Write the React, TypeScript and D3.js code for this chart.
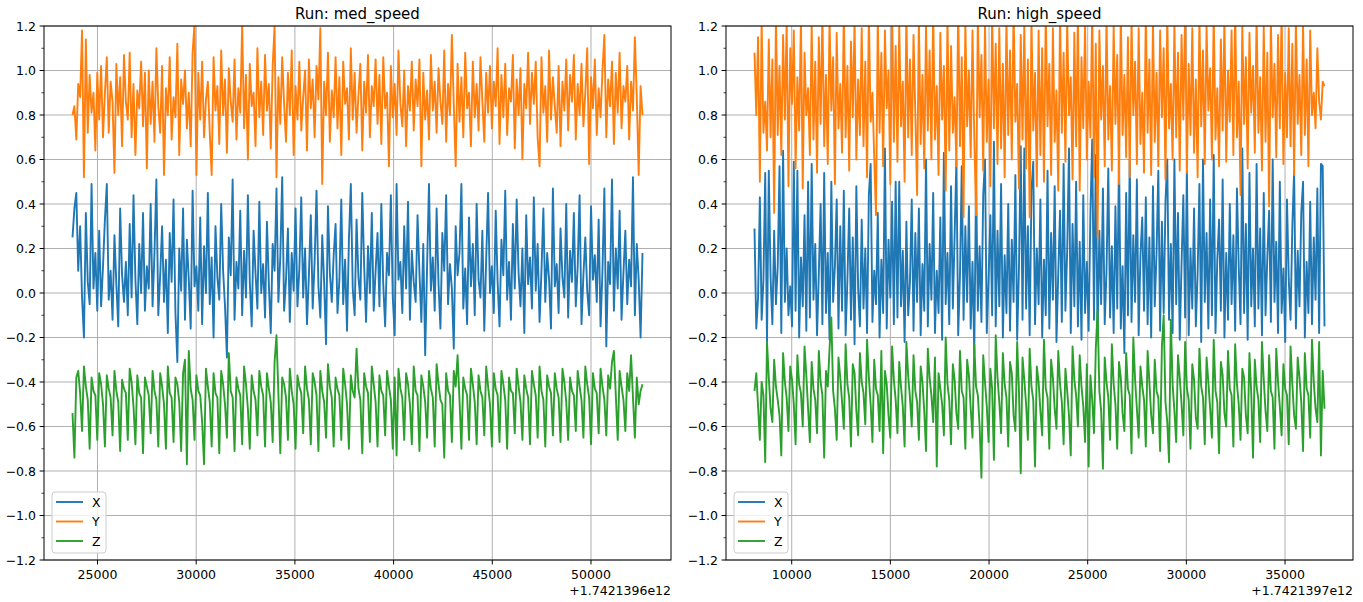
import { useEffect, useRef } from 'react'
import * as d3 from 'd3'

// sample time ranges (ms, relative to the offset shown under each x axis)
const medStart = 23734
const medEnd = 52609
const highStart = 8114
const highEnd = 37001

const medTicks = [25000, 30000, 35000, 40000, 45000, 50000]
const highTicks = [10000, 15000, 20000, 25000, 30000, 35000]
const yTicks = [-1.2, -1.0, -0.8, -0.6, -0.4, -0.2, 0.0, 0.2, 0.4, 0.6, 0.8, 1.0, 1.2]
const yMinorTicks = [-1.1, -0.9, -0.7, -0.5, -0.3, -0.1, 0.1, 0.3, 0.5, 0.7, 0.9, 1.1]

const medX = [
  0.25, 0.38, 0.45, 0.10, 0.30, -0.02, -0.20, 0.36, 0.05, -0.05, 0.49, 0.02, 0.18, -0.08, 0.28, -0.06, 0.12, 0.33, 0.49, -0.03,
  0.10, -0.12, 0.26, 0.04, -0.15, 0.38, 0.08, -0.04, 0.14, -0.10, 0.31, -0.02, 0.44, 0.06, -0.14, 0.22, 0.00, 0.36, -0.08, 0.12,
  0.02, 0.40, -0.06, 0.18, 0.51, -0.10, 0.08, 0.30, -0.04, 0.15, -0.18, 0.27, 0.05, 0.42, -0.09, -0.31, 0.20, 0.01, 0.38, -0.12,
  0.24, 0.06, -0.16, 0.46, 0.03, 0.12, -0.08, 0.34, -0.14, 0.21, 0.00, 0.45, -0.05, 0.16, -0.20, 0.30, 0.07, -0.03, 0.40, 0.10,
  -0.06, -0.29, 0.25, 0.08, 0.51, -0.12, 0.14, 0.02, 0.37, -0.10, 0.19, -0.02, 0.44, 0.05, -0.15, 0.28, 0.09, -0.07, 0.41, 0.00,
  0.13, -0.11, 0.32, 0.04, -0.18, 0.22, 0.10, 0.47, -0.04, 0.16, 0.52, -0.08, 0.06, 0.29, -0.13, 0.18, 0.01, 0.38, -0.06, 0.11,
  0.43, -0.02, 0.20, -0.14, 0.08, 0.35, -0.07, 0.14, 0.46, 0.03, -0.11, 0.26, 0.05, -0.23, 0.39, 0.09, -0.04, 0.17, 0.31, -0.09,
  0.06, 0.42, -0.05, 0.15, -0.17, 0.24, 0.49, 0.02, -0.10, 0.33, 0.07, -0.03, 0.45, 0.12, -0.13, 0.21, 0.00, 0.36, -0.08, 0.10,
  0.27, -0.06, 0.40, 0.04, -0.15, 0.18, 0.08, 0.44, -0.02, -0.19, 0.49, 0.06, 0.14, -0.09, 0.30, 0.02, 0.41, -0.12, 0.19, 0.05,
  -0.04, 0.35, 0.09, -0.13, 0.22, -0.28, 0.12, 0.49, 0.01, 0.16, -0.08, 0.38, 0.04, -0.16, 0.27, 0.10, 0.44, -0.05, 0.13, 0.02,
  -0.25, 0.30, 0.08, 0.18, 0.49, -0.07, 0.11, -0.14, 0.34, 0.03, 0.22, -0.10, 0.40, 0.06, -0.02, 0.28, -0.17, 0.15, 0.45, 0.00,
  0.12, -0.09, 0.37, 0.05, -0.15, 0.24, 0.08, 0.46, -0.03, 0.14, -0.12, 0.31, 0.02, 0.42, 0.09, -0.06, 0.20, -0.18, 0.35, 0.04,
  0.16, -0.07, 0.43, 0.01, 0.22, -0.13, 0.10, 0.38, -0.04, 0.18, 0.06, -0.16, 0.47, 0.03, 0.13, -0.09, 0.29, 0.07, -0.02, 0.40,
  -0.11, 0.19, 0.05, 0.36, -0.06, 0.12, 0.44, -0.14, 0.08, 0.25, 0.01, -0.10, 0.39, 0.06, 0.17, -0.04, 0.33, -0.15, 0.10, 0.47,
  -0.24, 0.14, 0.04, 0.51, -0.08, 0.20, 0.02, 0.37, -0.12, 0.09, 0.28, -0.05, 0.15, 0.03, 0.52, -0.10, 0.22, 0.06, -0.20, 0.18,
]

const medY = [
  0.80, 0.84, 0.69, 0.94, 0.88, 1.18, 0.52, 1.14, 0.72, 0.98, 0.81, 0.90, 0.64, 0.99, 0.78, 1.02, 0.70, 0.90, 1.06, 0.72,
  0.95, 0.86, 0.54, 1.03, 0.80, 0.97, 0.66, 1.07, 0.86, 0.78, 1.08, 0.70, 0.94, 0.62, 0.91, 0.83, 1.04, 0.75, 0.99, 0.56,
  1.00, 0.76, 0.95, 0.68, 1.10, 0.84, 0.72, 1.02, 0.53, 0.92, 0.80, 1.06, 0.69, 0.88, 0.79, 1.12, 0.62, 0.96, 0.85, 1.00,
  0.74, 0.90, 0.66, 1.08, 1.21, 0.53, 0.99, 0.78, 1.04, 0.70, 0.87, 0.95, 0.72, 0.53, 1.06, 0.82, 0.93, 0.67, 1.09, 0.80,
  0.96, 0.63, 1.01, 0.86, 0.77, 1.05, 0.69, 0.92, 0.81, 1.21, 0.74, 0.98, 0.60, 1.03, 0.84, 0.90, 0.66, 1.10, 0.79, 0.95,
  0.71, 1.07, 0.82, 0.94, 0.65, 1.02, 1.20, 0.52, 0.97, 0.76, 1.06, 0.85, 0.68, 0.99, 0.80, 1.09, 0.62, 0.93, 0.78, 1.04,
  0.73, 0.88, 1.00, 0.64, 1.05, 0.83, 0.96, 0.70, 1.02, 0.87, 1.19, 0.49, 0.95, 0.80, 1.08, 0.68, 0.91, 0.79, 1.06, 0.74,
  0.97, 0.62, 1.04, 0.85, 0.92, 0.69, 1.10, 0.78, 0.99, 0.72, 0.89, 1.03, 0.64, 0.95, 0.81, 1.07, 0.70, 0.93, 0.84, 1.05,
  0.76, 0.98, 0.67, 1.06, 0.83, 0.90, 0.57, 1.02, 0.79, 0.94, 0.71, 1.09, 0.85, 0.75, 1.00, 0.66, 0.93, 0.82, 1.04, 0.73,
  0.96, 0.84, 1.05, 0.57, 0.99, 0.78, 0.91, 0.69, 1.07, 0.82, 0.95, 0.72, 1.01, 0.86, 0.76, 1.09, 0.68, 0.94, 0.80, 1.16,
  0.85, 0.57, 1.03, 0.77, 0.97, 0.70, 1.08, 0.83, 0.90, 0.66, 1.04, 0.79, 0.94, 0.73, 1.06, 0.86, 0.68, 0.99, 0.81, 1.02,
  0.74, 0.95, 0.84, 1.10, 0.67, 0.98, 0.79, 1.03, 0.71, 0.92, 0.86, 1.07, 0.65, 0.96, 0.80, 1.01, 0.60, 0.94, 0.83, 1.08,
  0.76, 0.99, 0.85, 1.04, 0.70, 0.57, 1.06, 0.81, 0.93, 0.68, 1.09, 0.78, 0.97, 0.84, 0.72, 1.02, 0.66, 0.95, 0.82, 1.05,
  0.73, 0.98, 0.86, 1.07, 0.69, 0.94, 0.80, 1.03, 0.75, 0.90, 1.10, 0.58, 0.97, 0.83, 1.05, 0.71, 0.92, 0.79, 1.00, 1.16,
  0.70, 0.96, 0.84, 1.04, 0.67, 0.99, 0.81, 1.08, 0.74, 0.93, 0.86, 1.02, 0.69, 0.95, 0.82, 1.15, 0.88, 0.53, 0.93, 0.80,
]

const medZ = [
  -0.54, -0.74, -0.38, -0.35, -0.45, -0.62, -0.33, -0.42, -0.48, -0.70, -0.38, -0.44, -0.46, -0.66, -0.36, -0.41, -0.50, -0.69, -0.37, -0.43,
  -0.47, -0.64, -0.35, -0.44, -0.49, -0.71, -0.39, -0.43, -0.45, -0.66, -0.34, -0.40, -0.51, -0.68, -0.37, -0.45, -0.47, -0.72, -0.38, -0.42,
  -0.46, -0.63, -0.35, -0.44, -0.48, -0.69, -0.36, -0.42, -0.50, -0.70, -0.33, -0.45, -0.47, -0.67, -0.38, -0.41, -0.49, -0.71, -0.36, -0.30,
  -0.77, -0.26, -0.43, -0.48, -0.66, -0.37, -0.44, -0.46, -0.58, -0.77, -0.34, -0.42, -0.49, -0.69, -0.36, -0.45, -0.47, -0.72, -0.35, -0.41,
  -0.50, -0.65, -0.27, -0.44, -0.47, -0.71, -0.38, -0.43, -0.46, -0.68, -0.33, -0.41, -0.52, -0.70, -0.37, -0.44, -0.48, -0.64, -0.35, -0.42,
  -0.46, -0.69, -0.36, -0.43, -0.49, -0.67, -0.31, -0.19, -0.45, -0.72, -0.38, -0.41, -0.47, -0.66, -0.34, -0.44, -0.50, -0.70, -0.37, -0.42,
  -0.45, -0.63, -0.33, -0.43, -0.48, -0.68, -0.36, -0.40, -0.46, -0.71, -0.35, -0.44, -0.49, -0.65, -0.32, -0.42, -0.47, -0.69, -0.38, -0.43,
  -0.46, -0.66, -0.34, -0.41, -0.50, -0.70, -0.37, -0.44, -0.47, -0.25, -0.43, -0.48, -0.72, -0.36, -0.42, -0.45, -0.67, -0.33, -0.41, -0.49,
  -0.69, -0.37, -0.44, -0.46, -0.64, -0.35, -0.42, -0.48, -0.70, -0.38, -0.73, -0.34, -0.43, -0.47, -0.66, -0.36, -0.41, -0.50, -0.68, -0.33,
  -0.44, -0.46, -0.71, -0.37, -0.42, -0.49, -0.65, -0.35, -0.43, -0.47, -0.69, -0.32, -0.41, -0.48, -0.50, -0.74, -0.36, -0.44, -0.46, -0.67,
  -0.35, -0.42, -0.28, -0.48, -0.70, -0.38, -0.43, -0.46, -0.66, -0.34, -0.41, -0.49, -0.68, -0.37, -0.44, -0.47, -0.64, -0.33, -0.42, -0.50,
  -0.69, -0.36, -0.43, -0.46, -0.67, -0.35, -0.41, -0.48, -0.70, -0.38, -0.44, -0.45, -0.63, -0.34, -0.42, -0.49, -0.66, -0.37, -0.43, -0.47,
  -0.68, -0.35, -0.41, -0.46, -0.65, -0.33, -0.44, -0.48, -0.69, -0.37, -0.42, -0.45, -0.64, -0.36, -0.43, -0.47, -0.67, -0.34, -0.40, -0.49,
  -0.66, -0.38, -0.44, -0.46, -0.62, -0.35, -0.42, -0.48, -0.65, -0.33, -0.41, -0.47, -0.68, -0.36, -0.43, -0.45, -0.63, -0.34, -0.42, -0.48,
  -0.64, -0.37, -0.43, -0.31, -0.26, -0.46, -0.66, -0.35, -0.42, -0.48, -0.62, -0.36, -0.44, -0.28, -0.47, -0.65, -0.38, -0.50, -0.44, -0.41,
]

const highX = [
  0.29, -0.16, -0.02, 0.43, -0.12, 0.06, 0.54, -0.22, 0.55, 0.07, -0.14, 0.28, -0.05, 0.12, 0.57, -0.18, 0.64, -0.04, 0.20, -0.10,
  0.03, -0.15, 0.59, -0.08, 0.55, -0.20, 0.16, -0.06, 0.35, -0.17, 0.50, -0.11, 0.58, -0.03, 0.22, -0.19, 0.09, 0.40, -0.14, 0.54,
  -0.09, 0.18, -0.21, 0.50, -0.04, 0.12, 0.42, -0.16, 0.30, -0.08, 0.46, -0.19, 0.06, 0.38, -0.12, 0.25, -0.23, 0.48, 0.02, -0.15,
  0.33, -0.07, 0.20, -0.18, 0.44, 0.58, -0.13, 0.10, -0.05, 0.36, -0.20, 0.15, -0.09, 0.65, -0.16, 0.24, -0.02, 0.41, -0.14, 0.50,
  -0.11, 0.50, -0.06, 0.19, -0.22, 0.32, -0.10, 0.05, 0.42, -0.17, 0.27, -0.04, 0.38, -0.19, 0.13, -0.08, 0.60, -0.15, 0.22, -0.03,
  0.45, -0.18, 0.10, -0.09, 0.34, -0.21, 0.63, -0.05, 0.18, -0.14, 0.48, -0.07, 0.26, 0.60, -0.19, 0.08, 0.57, -0.12, 0.30, -0.04,
  0.39, -0.16, 0.14, -0.27, 0.52, -0.08, 0.21, -0.13, 0.44, 0.60, -0.18, 0.06, 0.35, -0.10, 0.68, -0.15, 0.28, -0.06, 0.49, -0.20,
  0.17, -0.09, 0.40, -0.17, 0.24, -0.04, 0.53, -0.21, 0.11, 0.66, -0.12, 0.65, -0.07, 0.30, -0.19, 0.46, 0.59, -0.14, 0.20, -0.05,
  0.42, -0.20, 0.15, -0.10, 0.55, -0.16, 0.27, -0.03, 0.48, -0.22, 0.09, 0.37, -0.13, 0.58, -0.08, 0.19, 0.65, -0.18, 0.31, -0.06,
  0.50, -0.15, 0.23, -0.21, 0.44, -0.09, 0.14, -0.17, 0.36, 0.69, -0.12, 0.62, -0.20, 0.28, -0.05, 0.47, -0.14, 0.10, 0.56, -0.11,
  0.21, -0.18, 0.39, -0.07, 0.62, -0.16, 0.12, -0.27, 0.45, -0.10, 0.60, -0.13, 0.26, -0.04, 0.51, -0.19, 0.17, 0.34, -0.08, 0.43,
  -0.14, 0.25, -0.20, 0.48, -0.06, 0.18, 0.55, -0.17, 0.32, -0.09, 0.41, 0.60, -0.12, 0.22, -0.18, 0.60, -0.05, 0.36, -0.21, 0.13,
  0.44, -0.11, 0.55, -0.19, 0.20, -0.07, 0.38, -0.15, 0.09, 0.49, -0.22, 0.60, -0.04, 0.27, -0.16, 0.42, -0.10, 0.62, -0.18, 0.15,
  0.33, -0.08, 0.51, -0.20, 0.18, -0.12, 0.40, -0.05, 0.26, -0.17, 0.47, 0.12, -0.14, 0.65, -0.09, 0.31, -0.21, 0.54, -0.06, 0.20,
  -0.15, 0.58, -0.07, 0.29, -0.19, 0.45, -0.10, 0.16, 0.37, -0.13, 0.60, -0.04, 0.23, -0.18, 0.50, -0.09, 0.11, -0.22, 0.42, 0.06,
  -0.12, 0.30, 0.55, -0.16, 0.19, -0.06, 0.36, 0.50, -0.20, 0.14, -0.09, 0.41, -0.14, 0.25, -0.03, 0.47, -0.18, 0.58, 0.57, -0.15,
]

const highY = [
  1.08, 0.80, 1.15, 0.50, 1.22, 0.72, 0.86, 0.64, 1.14, 0.70, 1.05, 0.36, 1.25, 0.71, 1.02, 0.62, 1.16, 0.78, 1.22, 0.48,
  1.10, 0.85, 1.18, 0.56, 0.97, 0.73, 1.24, 0.47, 1.08, 0.80, 0.92, 0.62, 1.21, 0.69, 1.04, 0.54, 1.15, 0.76, 1.26, 0.66,
  0.98, 0.58, 1.23, 0.82, 1.06, 0.49, 1.17, 0.74, 0.94, 0.63, 1.27, 0.70, 1.02, 0.55, 1.13, 0.79, 1.22, 0.60, 0.96, 0.71,
  1.19, 0.66, 1.04, 0.52, 1.25, 0.77, 0.90, 0.61, 0.35, 1.24, 0.72, 1.08, 0.57, 1.18, 0.83, 1.00, 0.49, 1.28, 0.68, 1.11,
  0.59, 1.20, 0.75, 0.95, 0.50, 1.26, 0.70, 1.05, 0.62, 1.16, 0.81, 0.44, 1.23, 0.67, 0.98, 0.56, 1.21, 0.73, 1.09, 0.60,
  1.27, 0.69, 0.93, 0.53, 1.17, 0.78, 1.02, 0.46, 1.24, 0.64, 1.11, 0.72, 0.88, 0.57, 1.29, 0.66, 1.06, 0.34, 1.22, 0.75,
  1.00, 0.61, 1.18, 0.70, 0.35, 1.25, 0.79, 1.07, 0.55, 1.21, 0.68, 0.96, 0.48, 1.26, 0.74, 1.12, 0.58, 1.19, 0.65, 1.03,
  0.52, 1.23, 0.71, 1.09, 0.60, 1.28, 0.77, 0.94, 0.47, 1.16, 0.69, 1.20, 0.56, 1.05, 0.34, 1.24, 0.73, 0.99, 0.48, 1.18,
  0.62, 1.10, 0.50, 1.27, 0.75, 1.03, 0.53, 1.19, 0.68, 0.91, 0.46, 1.25, 0.72, 1.08, 0.59, 1.22, 0.80, 0.97, 0.51, 1.17,
  0.66, 1.26, 0.46, 1.06, 0.74, 1.21, 0.60, 0.95, 0.70, 1.28, 0.52, 1.12, 0.25, 1.18, 0.78, 1.02, 0.57, 1.24, 0.69, 0.93,
  0.55, 1.20, 0.76, 1.07, 0.49, 1.26, 0.71, 0.98, 0.61, 1.15, 0.52, 1.23, 0.80, 1.04, 0.58, 1.19, 0.67, 0.90, 0.54, 1.27,
  0.72, 1.05, 0.53, 1.22, 0.68, 0.99, 0.57, 1.18, 0.79, 1.10, 0.51, 1.25, 0.74, 0.94, 0.60, 1.21, 0.70, 1.08, 0.55, 1.16,
  0.78, 1.27, 0.54, 1.03, 0.71, 1.19, 0.63, 0.96, 0.52, 1.24, 0.75, 1.09, 0.58, 1.20, 0.82, 1.01, 0.60, 1.26, 0.69, 0.92,
  0.57, 1.14, 0.73, 1.23, 0.59, 1.00, 0.77, 1.18, 0.62, 1.28, 0.70, 0.95, 0.44, 1.21, 0.76, 1.06, 0.56, 1.17, 0.81, 1.02,
  0.63, 1.25, 0.72, 0.97, 0.55, 1.20, 0.68, 1.08, 0.39, 1.22, 0.79, 1.03, 0.61, 1.16, 0.74, 1.27, 0.58, 0.99, 0.70, 1.19,
  0.66, 1.12, 0.53, 1.24, 0.76, 0.98, 0.62, 1.21, 0.71, 1.05, 0.57, 1.18, 0.80, 0.90, 0.74, 1.10, 0.86, 0.78, 0.95, 0.93,
]

const highZ = [
  -0.44, -0.36, -0.51, -0.66, -0.40, -0.46, -0.76, -0.22, -0.38, -0.52, -0.58, -0.30, -0.42, -0.48, -0.55, -0.73, -0.27, -0.40, -0.47, -0.62,
  -0.33, -0.39, -0.50, -0.68, -0.28, -0.41, -0.45, -0.60, -0.24, -0.37, -0.52, -0.67, -0.31, -0.43, -0.48, -0.63, -0.26, -0.40, -0.46, -0.74,
  -0.35, -0.42, -0.25, -0.11, -0.44, -0.52, -0.66, -0.29, -0.38, -0.49, -0.61, -0.23, -0.41, -0.47, -0.69, -0.32, -0.36, -0.53, -0.64, -0.27,
  -0.40, -0.45, -0.59, -0.21, -0.38, -0.50, -0.67, -0.30, -0.43, -0.46, -0.62, -0.26, -0.72, -0.35, -0.41, -0.55, -0.65, -0.24, -0.39, -0.48,
  -0.63, -0.31, -0.42, -0.51, -0.69, -0.22, -0.37, -0.47, -0.60, -0.28, -0.44, -0.49, -0.66, -0.33, -0.40, -0.53, -0.71, -0.25, -0.38, -0.46,
  -0.58, -0.29, -0.78, -0.36, -0.43, -0.50, -0.64, -0.20, -0.41, -0.48, -0.68, -0.32, -0.39, -0.54, -0.61, -0.26, -0.44, -0.47, -0.70, -0.30,
  -0.37, -0.52, -0.65, -0.23, -0.42, -0.46, -0.60, -0.83, -0.28, -0.40, -0.51, -0.67, -0.34, -0.43, -0.75, -0.19, -0.38, -0.49, -0.63, -0.27,
  -0.41, -0.47, -0.69, -0.31, -0.36, -0.55, -0.62, -0.22, -0.44, -0.81, -0.29, -0.39, -0.50, -0.66, -0.25, -0.42, -0.48, -0.78, -0.33, -0.40,
  -0.53, -0.64, -0.21, -0.43, -0.47, -0.70, -0.30, -0.38, -0.52, -0.61, -0.26, -0.41, -0.49, -0.68, -0.34, -0.44, -0.55, -0.73, -0.24, -0.39,
  -0.46, -0.60, -0.28, -0.42, -0.51, -0.67, -0.32, -0.78, -0.37, -0.48, -0.63, -0.25, -0.08, -0.44, -0.53, -0.79, -0.29, -0.40, -0.47, -0.66,
  -0.23, -0.41, -0.50, -0.70, -0.31, -0.38, -0.54, -0.62, -0.27, -0.43, -0.46, -0.72, -0.20, -0.39, -0.52, -0.65, -0.33, -0.42, -0.48, -0.69,
  -0.26, -0.40, -0.55, -0.63, -0.30, -0.44, -0.47, -0.71, -0.24, -0.10, -0.49, -0.58, -0.76, -0.12, -0.41, -0.53, -0.67, -0.28, -0.38, -0.50,
  -0.64, -0.22, -0.43, -0.48, -0.70, -0.32, -0.39, -0.56, -0.61, -0.25, -0.42, -0.47, -0.68, -0.29, -0.40, -0.52, -0.65, -0.21, -0.44, -0.49,
  -0.72, -0.31, -0.37, -0.54, -0.60, -0.26, -0.43, -0.46, -0.69, -0.23, -0.41, -0.50, -0.66, -0.34, -0.38, -0.55, -0.63, -0.27, -0.45, -0.74,
  -0.30, -0.42, -0.48, -0.67, -0.22, -0.39, -0.53, -0.62, -0.28, -0.44, -0.47, -0.70, -0.25, -0.40, -0.51, -0.64, -0.32, -0.43, -0.46, -0.68,
  -0.24, -0.41, -0.55, -0.61, -0.29, -0.38, -0.49, -0.71, -0.27, -0.43, -0.46, -0.65, -0.21, -0.40, -0.52, -0.58, -0.22, -0.73, -0.35, -0.52,
]

const W = 1363
const H = 602
const axTop = 26
const axBottom = 560

const panels = [
  { title: 'Run: med_speed', offset: '+1.7421396e12', start: medStart, end: medEnd, ticks: medTicks, x: medX, y: medY, z: medZ, left: 44, right: 671 },
  { title: 'Run: high_speed', offset: '+1.7421397e12', start: highStart, end: highEnd, ticks: highTicks, x: highX, y: highY, z: highZ, left: 726, right: 1353 },
]

export default function App() {
  const ref = useRef<SVGSVGElement>(null)

  useEffect(() => {
    if (!ref.current) return
    const svg = d3.select(ref.current)
    svg.selectAll('*').remove()
    svg.attr('width', W).attr('height', H).style('font-family', '"DejaVu Sans", sans-serif')

    svg.append('rect').attr('width', W).attr('height', H).attr('fill', '#fff')

    const fmt = d3.format('.1f')

    panels.forEach((p, k) => {
      const span = p.end - p.start
      const x = d3.scaleLinear().domain([p.start - span * 0.05, p.end + span * 0.05]).range([p.left, p.right])
      const y = d3.scaleLinear().domain([-1.2, 1.2]).range([axBottom, axTop])
      const g = svg.append('g')

      // grid
      g.selectAll('line.gx').data(p.ticks).join('line')
        .attr('x1', d => x(d)).attr('x2', d => x(d))
        .attr('y1', axTop).attr('y2', axBottom)
        .attr('stroke', '#b0b0b0').attr('stroke-width', 1)
      g.selectAll('line.gy').data(yTicks).join('line')
        .attr('x1', p.left).attr('x2', p.right)
        .attr('y1', d => y(d)).attr('y2', d => y(d))
        .attr('stroke', '#b0b0b0').attr('stroke-width', 1)

      // clip
      const clipId = `clip-${k}`
      svg.append('clipPath').attr('id', clipId).append('rect')
        .attr('x', p.left).attr('y', axTop)
        .attr('width', p.right - p.left).attr('height', axBottom - axTop)

      const series = [
        { name: 'X', values: p.x, color: '#1f77b4' },
        { name: 'Y', values: p.y, color: '#ff7f0e' },
        { name: 'Z', values: p.z, color: '#2ca02c' },
      ]

      series.forEach(s => {
        const t = d3.scaleLinear().domain([0, s.values.length - 1]).range([p.start, p.end])
        const line = d3.line<number>().x((_, i) => x(t(i))).y(d => y(d))
        g.append('path')
          .datum(s.values)
          .attr('d', line)
          .attr('fill', 'none')
          .attr('stroke', s.color)
          .attr('stroke-width', 1.9)
          .attr('stroke-linejoin', 'round')
          .attr('clip-path', `url(#${clipId})`)
      })

      // spines
      g.append('rect')
        .attr('x', p.left).attr('y', axTop)
        .attr('width', p.right - p.left).attr('height', axBottom - axTop)
        .attr('fill', 'none').attr('stroke', '#000').attr('stroke-width', 1)

      // x ticks
      g.selectAll('line.tx').data(p.ticks).join('line')
        .attr('x1', d => x(d)).attr('x2', d => x(d))
        .attr('y1', axBottom).attr('y2', axBottom + 4.4)
        .attr('stroke', '#000').attr('stroke-width', 1)
      g.selectAll('text.tx').data(p.ticks).join('text')
        .attr('x', d => x(d)).attr('y', axBottom + 19)
        .attr('text-anchor', 'middle')
        .style('font-size', '12.5px')
        .attr('fill', '#000')
        .text(d => String(d))

      // y ticks
      g.selectAll('line.ty').data(yTicks).join('line')
        .attr('x1', p.left - 4.4).attr('x2', p.left)
        .attr('y1', d => y(d)).attr('y2', d => y(d))
        .attr('stroke', '#000').attr('stroke-width', 1)
      g.selectAll('line.tym').data(yMinorTicks).join('line')
        .attr('x1', p.left - 2.5).attr('x2', p.left)
        .attr('y1', d => y(d)).attr('y2', d => y(d))
        .attr('stroke', '#000').attr('stroke-width', 0.75)
      g.selectAll('text.ty').data(yTicks).join('text')
        .attr('x', p.left - 8).attr('y', d => y(d))
        .attr('text-anchor', 'end')
        .attr('dominant-baseline', 'central')
        .style('font-size', '12.5px')
        .attr('fill', '#000')
        .text(d => fmt(d))

      // offset text
      g.append('text')
        .attr('x', p.right).attr('y', 595)
        .attr('text-anchor', 'end')
        .style('font-size', '12.5px')
        .attr('fill', '#000')
        .text(p.offset)

      // title
      g.append('text')
        .attr('x', (p.left + p.right) / 2).attr('y', 19)
        .attr('text-anchor', 'middle')
        .style('font-size', '15px')
        .attr('fill', '#000')
        .text(p.title)

      // legend
      const lx = p.left + 8
      const ly = 492
      const lg = g.append('g')
      lg.append('rect')
        .attr('x', lx).attr('y', ly).attr('width', 54).attr('height', 61)
        .attr('rx', 3).attr('fill', '#fff').attr('fill-opacity', 0.8)
        .attr('stroke', '#cccccc').attr('stroke-width', 1)
      series.forEach((s, i) => {
        const cy = ly + 10 + i * 19.5
        lg.append('line')
          .attr('x1', lx + 4).attr('x2', lx + 31)
          .attr('y1', cy).attr('y2', cy)
          .attr('stroke', s.color).attr('stroke-width', 1.9)
        lg.append('text')
          .attr('x', lx + 40).attr('y', cy)
          .attr('dominant-baseline', 'central')
          .style('font-size', '12.5px')
          .attr('fill', '#000')
          .text(s.name)
      })
    })
  }, [])

  return (
    <div style={{ position: 'absolute', left: 0, top: 0 }}>
      <svg ref={ref}></svg>
    </div>
  )
}
